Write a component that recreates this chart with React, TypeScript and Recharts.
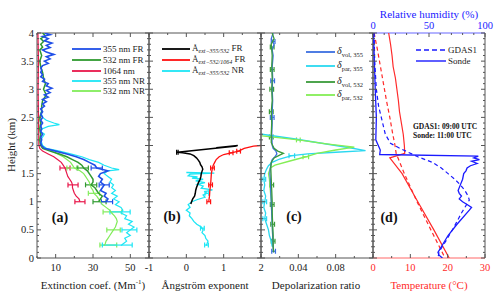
import React from "react";
import { ScatterChart, Scatter, XAxis, YAxis, ErrorBar } from "recharts";

type Pair = [number, number]; // [height km, value]
type Trip = [number, number, number]; // [height km, value, error]

// tick labels
const heightLabels = [0, 0.5, 1, 1.5, 2, 2.5, 3, 3.5, 4];
const extLabels = [10, 30, 50];
const angLabels = [-1, 0, 1, 2];
const depLabels = [0.04, 0.08];
const tempLabels = [0, 10, 20, 30];
const rhLabels = [0, 50, 100];

// (a) extinction coefficient, Mm-1
const ext355FR: Pair[] = [
  [4.0, 4], [3.97, 7], [3.94, 3], [3.9, 6], [3.86, 4], [3.82, 8], [3.78, 5], [3.74, 7], [3.7, 3], [3.66, 5],
  [3.62, 9], [3.58, 5], [3.54, 7], [3.5, 4], [3.46, 6], [3.42, 3], [3.38, 2], [3.34, 2.5], [3.3, 2], [3.26, 3],
  [3.22, 2], [3.18, 4], [3.14, 3], [3.1, 6], [3.06, 5], [3.02, 8], [2.98, 5], [2.94, 7], [2.9, 4], [2.86, 6],
  [2.82, 3], [2.78, 5], [2.74, 3], [2.7, 4], [2.65, 2], [2.6, 3], [2.55, 2], [2.5, 3], [2.45, 2], [2.4, 3],
  [2.35, 2], [2.3, 2.5], [2.25, 2], [2.2, 3], [2.15, 2], [2.1, 2.5], [2.05, 2], [2.0, 2.5], [1.95, 4], [1.9, 10],
  [1.85, 16], [1.8, 21], [1.75, 25], [1.7, 28], [1.65, 31], [1.6, 32], [1.55, 38], [1.5, 34], [1.45, 33], [1.4, 35],
  [1.35, 34], [1.3, 36], [1.25, 35], [1.2, 34], [1.15, 37], [1.1, 36], [1.05, 38], [1.0, 37],
];
const ext532FR: Pair[] = [
  [4.0, 3], [3.95, 4.5], [3.9, 2], [3.85, 3.5], [3.8, 2], [3.75, 3], [3.7, 1.5], [3.6, 2.5], [3.5, 1.5], [3.4, 2],
  [3.3, 3], [3.2, 3.5], [3.1, 4.5], [3.0, 3.5], [2.9, 5], [2.8, 3], [2.7, 2.5], [2.6, 2.5], [2.5, 1.5], [2.4, 2],
  [2.3, 1.5], [2.2, 2], [2.1, 1.5], [2.0, 2], [1.95, 3], [1.9, 7], [1.85, 12], [1.8, 16], [1.75, 19], [1.7, 22],
  [1.65, 24], [1.6, 25], [1.55, 27], [1.5, 28], [1.45, 29], [1.4, 30], [1.35, 30], [1.3, 29], [1.25, 31], [1.2, 32],
  [1.15, 33], [1.1, 35], [1.05, 34], [1.0, 33],
];
const ext1064: Pair[] = [
  [4.0, 0.5], [3.5, 0.8], [3.0, 0.6], [2.5, 0.8], [2.0, 1], [1.95, 1.5], [1.9, 3], [1.85, 6], [1.8, 9], [1.75, 11],
  [1.7, 13], [1.65, 14], [1.6, 15], [1.55, 15.5], [1.5, 16], [1.45, 16.5], [1.4, 17.5], [1.35, 18.5], [1.3, 19],
  [1.25, 19], [1.2, 19.5], [1.15, 20], [1.1, 21], [1.05, 22.5], [1.0, 23],
];
const ext355NR: Pair[] = [
  [2.6, 2], [2.5, 3], [2.45, 5], [2.4, 9], [2.37, 12], [2.34, 6], [2.3, 3], [2.25, 2], [2.2, 4], [2.1, 2],
  [2.0, 3], [1.95, 5], [1.9, 12], [1.85, 18], [1.8, 24], [1.75, 28], [1.7, 33], [1.65, 36], [1.6, 40], [1.57, 44],
  [1.55, 38], [1.5, 36], [1.45, 38], [1.4, 40], [1.35, 39], [1.3, 41], [1.25, 40], [1.2, 42], [1.15, 40], [1.1, 43],
  [1.05, 41], [1.0, 44], [0.95, 42], [0.9, 45], [0.85, 46], [0.8, 45], [0.75, 48], [0.7, 47], [0.65, 51], [0.6, 49],
  [0.55, 52], [0.5, 50], [0.45, 48], [0.4, 50], [0.35, 47], [0.3, 48], [0.25, 46], [0.22, 45],
];
const ext532NR: Pair[] = [
  [2.5, 1], [2.4, 2], [2.3, 1.5], [2.2, 2], [2.1, 1.5], [2.0, 2], [1.95, 4], [1.9, 8], [1.85, 11], [1.8, 14],
  [1.75, 16], [1.7, 18], [1.65, 19], [1.6, 20], [1.55, 23], [1.5, 25], [1.45, 26], [1.4, 27], [1.35, 28], [1.3, 28.5],
  [1.25, 29], [1.2, 30], [1.15, 30.5], [1.1, 32], [1.05, 33], [1.0, 34], [0.95, 35], [0.9, 37], [0.85, 39], [0.8, 40],
  [0.75, 41.5], [0.7, 42.5], [0.65, 43], [0.6, 42.5], [0.55, 42], [0.5, 41], [0.45, 40], [0.4, 39], [0.35, 38],
  [0.3, 37], [0.25, 36.5], [0.22, 36],
];
const err355FR: Trip[] = [[1.6, 32, 3], [1.3, 36, 2.7], [1.0, 37.5, 3]];
const err532FR: Trip[] = [[1.6, 24.5, 3], [1.3, 29, 3], [1.0, 33.5, 3.5]];
const err1064: Trip[] = [[1.6, 15, 2.7], [1.3, 19.3, 2.7], [1.0, 23, 2.7]];
const err355NR: Trip[] = [[0.82, 44.5, 5.4], [0.5, 49.5, 4], [0.23, 43, 8]];
const err532NR: Trip[] = [[1.6, 19, 3], [1.15, 30.5, 3], [0.82, 40.4, 5], [0.5, 41, 3.6], [0.23, 38.2, 4.5]];

// (b) Angstrom exponent
const ang355FR: Pair[] = [
  [2.0, 1.38], [1.96, 0.8], [1.99, 1.35], [1.88, -0.24], [1.87, -0.1], [1.85, 0.1], [1.82, 0.2], [1.78, 0.27],
  [1.74, 0.32], [1.7, 0.36], [1.66, 0.38], [1.62, 0.42], [1.58, 0.44], [1.54, 0.42], [1.5, 0.4], [1.45, 0.39],
  [1.4, 0.37], [1.35, 0.33], [1.3, 0.3], [1.25, 0.27], [1.2, 0.25], [1.15, 0.24], [1.1, 0.22], [1.05, 0.17],
  [1.0, 0.14], [0.96, 0.12],
];
const ang532FR: Pair[] = [
  [2.0, 2.0], [1.99, 1.8], [1.95, 1.55], [1.9, 1.4], [1.87, 1.2], [1.84, 1.0], [1.8, 0.88], [1.75, 0.8],
  [1.7, 0.76], [1.65, 0.72], [1.6, 0.7], [1.5, 0.67], [1.4, 0.66], [1.3, 0.65], [1.2, 0.63], [1.1, 0.62], [1.0, 0.6],
];
const ang355NR: Pair[] = [
  [1.52, 0.0], [1.51, 0.75], [1.49, 0.1], [1.46, 0.05], [1.44, 0.3], [1.42, 0.15], [1.4, 0.45], [1.37, 0.25],
  [1.34, 0.5], [1.31, 0.3], [1.28, 0.45], [1.24, 0.4], [1.21, 0.7], [1.18, 0.5], [1.15, 0.55], [1.12, 0.45],
  [1.08, 0.5], [1.04, 0.3], [1.0, 0.15], [0.95, 0.05], [0.9, 0.1], [0.85, 0.0], [0.8, 0.1], [0.75, 0.08],
  [0.7, 0.15], [0.65, 0.2], [0.6, 0.28], [0.55, 0.4], [0.5, 0.45], [0.45, 0.42], [0.4, 0.5], [0.35, 0.52],
  [0.3, 0.58], [0.25, 0.55], [0.22, 0.53],
];
const errAng355FR: Trip[] = [[1.88, -0.24, 0.02]];
const errAng532FR: Trip[] = [[1.9, 1.4, 0.05], [1.87, 1.2, 0.05], [1.6, 0.7, 0.05], [1.3, 0.65, 0.05], [1.0, 0.6, 0.05]];
const errAng355NR: Trip[] = [[1.15, 0.55, 0.05], [0.53, 0.43, 0.05], [0.23, 0.54, 0.05]];

// (c) depolarization ratio
const volDep355: Pair[] = [
  [4.0, 0.013], [3.9, 0.011], [3.8, 0.014], [3.7, 0.012], [3.6, 0.013], [3.4, 0.012], [3.2, 0.0125], [3.0, 0.012],
  [2.8, 0.0125], [2.6, 0.012], [2.4, 0.012], [2.2, 0.0115], [2.0, 0.012], [1.95, 0.013], [1.9, 0.016], [1.85, 0.017],
  [1.8, 0.015], [1.75, 0.012], [1.7, 0.011], [1.6, 0.01], [1.5, 0.0095], [1.4, 0.01], [1.2, 0.0105], [1.0, 0.011],
  [0.8, 0.0115], [0.6, 0.012], [0.4, 0.0125], [0.2, 0.013], [0.1, 0.0135],
];
const parDep355: Pair[] = [
  [2.2, 0.001], [2.12, 0.035], [2.04, 0.065], [1.96, 0.095], [1.91, 0.112], [1.88, 0.08], [1.85, 0.05], [1.82, 0.033],
  [1.76, 0.02], [1.7, 0.012], [1.64, 0.008], [1.58, 0.006], [1.5, 0.004], [1.4, 0.003], [1.3, 0.004], [1.2, 0.003],
  [1.1, 0.005], [1.0, 0.004], [0.9, 0.003], [0.8, 0.005], [0.7, 0.004], [0.6, 0.006], [0.5, 0.008], [0.4, 0.009],
  [0.3, 0.011], [0.2, 0.012],
];
const volDep532: Pair[] = [
  [4.0, 0.012], [3.9, 0.014], [3.8, 0.011], [3.6, 0.012], [3.4, 0.0115], [3.2, 0.012], [3.0, 0.0115], [2.8, 0.012],
  [2.6, 0.011], [2.4, 0.0115], [2.2, 0.011], [2.05, 0.011], [1.95, 0.014], [1.9, 0.018], [1.86, 0.024], [1.83, 0.02],
  [1.78, 0.014], [1.7, 0.011], [1.6, 0.0105], [1.4, 0.011], [1.2, 0.0115], [1.0, 0.012], [0.8, 0.012], [0.6, 0.0125],
  [0.4, 0.013], [0.2, 0.013], [0.1, 0.0135],
];
const parDep532: Pair[] = [
  [2.17, 0.001], [2.1, 0.04], [2.03, 0.07], [1.97, 0.1], [1.92, 0.08], [1.86, 0.06], [1.8, 0.048], [1.72, 0.03],
  [1.65, 0.015], [1.6, 0.01], [1.5, 0.008], [1.4, 0.009], [1.2, 0.01], [1.0, 0.011], [0.8, 0.0115], [0.6, 0.012],
  [0.4, 0.0125], [0.2, 0.013],
];
const errVol355: Trip[] = [[3.85, 0.013, 0.002], [3.15, 0.0125, 0.002], [2.5, 0.012, 0.002], [0.12, 0.0135, 0.002]];
const errPar355: Trip[] = [[1.82, 0.033, 0.003], [1.4, 0.003, 0.002], [1.0, 0.004, 0.002], [0.7, 0.004, 0.002]];
const errVol532: Trip[] = [
  [3.75, 0.012, 0.002], [3.35, 0.012, 0.002], [3.0, 0.0115, 0.002], [2.6, 0.011, 0.002], [2.15, 0.011, 0.002],
  [1.3, 0.0115, 0.002], [0.95, 0.012, 0.002], [0.6, 0.0125, 0.002], [0.3, 0.013, 0.002],
];
const errPar532: Trip[] = [[2.1, 0.04, 0.002], [1.8, 0.048, 0.003]];

// (d) temperature (degC) and relative humidity (%)
const tempSonde: Pair[] = [
  [4.0, 4.2], [3.8, 4.7], [3.6, 5.1], [3.4, 5.4], [3.2, 6.0], [3.0, 6.4], [2.8, 6.8], [2.6, 7.1], [2.4, 7.6],
  [2.2, 8.1], [2.0, 8.4], [1.86, 8.5], [1.82, 6.5], [1.78, 4.5], [1.5, 7.8], [1.0, 12.0], [0.5, 16.3], [0.0, 20.4],
];
const tempGdas: Pair[] = [
  [4.0, 0.3], [3.7, 1.2], [3.4, 2.0], [3.1, 2.8], [2.8, 3.6], [2.5, 4.5], [2.2, 5.3], [2.0, 5.9], [1.86, 6.2],
  [1.5, 8.4], [1.0, 11.8], [0.5, 15.5], [0.0, 19.3],
];
const rhSonde: Pair[] = [
  [4.0, 0.5], [3.5, 1.2], [3.0, 2.0], [2.5, 3.0], [2.1, 2.5], [1.92, 6.5], [1.84, 6], [1.81, 94], [1.78, 90],
  [1.75, 95], [1.72, 88], [1.68, 93], [1.64, 87], [1.6, 84], [1.55, 83], [1.5, 81], [1.4, 80], [1.3, 78], [1.2, 76],
  [1.15, 77], [1.1, 79], [1.05, 77], [1.0, 80], [0.95, 84], [0.9, 88], [0.85, 86], [0.6, 75], [0.4, 67], [0.2, 61],
  [0.1, 58], [0.05, 59], [0.0, 62],
];
const rhGdas: Pair[] = [
  [4.0, 1], [3.5, 1.5], [3.0, 3], [2.7, 5], [2.45, 8], [2.2, 11], [2.04, 15.6], [1.95, 24], [1.8, 40], [1.7, 53],
  [1.6, 61], [1.5, 67], [1.4, 73], [1.3, 78], [1.2, 82], [1.1, 85], [1.03, 86], [0.8, 79], [0.56, 72.6], [0.3, 65],
  [0.11, 59], [0.0, 58],
];

const FONT = "'Liberation Serif', 'Times New Roman', serif";
const AXC = "#555";
const BLUE = "#1a1aff";
const RED = "#ff2a2a";

const steps = (a: number, b: number, s: number) => {
  const out: number[] = [];
  for (let i = 0; a + i * s <= b + 1e-9; i++) out.push(+(a + i * s).toFixed(4));
  return out;
};
const near = (list: number[] | null, v: number) => !!list && list.some((m) => Math.abs(m - v) < 1e-6);
const yTicks = steps(0, 4, 0.1);

function tick(side: string, majors: number[], labels: number[] | null, color = "#222") {
  return (p: any) => {
    const x = Number(p.x);
    const y = Number(p.y);
    const v = Number(p.payload?.value);
    const len = near(majors, v) ? 4 : 2;
    const lbl = near(labels, v) ? String(v) : null;
    const ts = { fontFamily: FONT, fontSize: 10.5, fill: color };
    if (side === "left")
      return (
        <g>
          <line x1={x} y1={y} x2={x + len} y2={y} stroke={AXC} />
          {lbl && <text x={x - 3} y={y + 3.5} textAnchor="end" style={ts}>{lbl}</text>}
        </g>
      );
    if (side === "right") return <g><line x1={x} y1={y} x2={x - len} y2={y} stroke={AXC} /></g>;
    if (side === "top")
      return (
        <g>
          <line x1={x} y1={y} x2={x} y2={y + len} stroke={AXC} />
          {lbl && <text x={x} y={y - 4} textAnchor="middle" style={ts}>{lbl}</text>}
        </g>
      );
    return (
      <g>
        <line x1={x} y1={y} x2={x} y2={y - len} stroke={AXC} />
        {lbl && <text x={x} y={y + 13} textAnchor="middle" style={ts}>{lbl}</text>}
      </g>
    );
  };
}

const noDot = () => <g />;
const toPts = (a: Pair[]) => a.map(([h, v]) => ({ h, v }));
const toErr = (a: Trip[]) => a.map(([h, v, e]) => ({ h, v, e }));

function profile(key: string, data: Pair[], color: string, w = 1.3, dash?: string, xAxisId: any = 0) {
  return (
    <Scatter
      key={key}
      data={toPts(data)}
      xAxisId={xAxisId}
      fill={color}
      line={{ stroke: color, strokeWidth: w, strokeDasharray: dash }}
      lineType="joint"
      shape={noDot}
      legendType="none"
      isAnimationActive={false}
    />
  );
}

function bars(key: string, data: Trip[], color: string) {
  return (
    <Scatter key={key} data={toErr(data)} fill={color} shape={noDot} legendType="none" isAnimationActive={false}>
      <ErrorBar dataKey="e" direction="x" width={2.5} stroke={color} strokeWidth={1.2} />
    </Scatter>
  );
}

type Cfg = {
  left: number;
  yw: number;
  xDomain: [number, number];
  xTicks: number[];
  xMajors: number[];
  xLabels: number[];
  xColor?: string;
  topDomain: [number, number];
  topTicks: number[];
  topLabels: number[] | null;
  topColor?: string;
  bottomLine?: string;
  topLine?: string;
  showY?: boolean;
};

function panel(cfg: Cfg, series: React.ReactNode[]) {
  const width = cfg.yw + 112 + 10;
  return (
    <div style={{ position: "absolute", left: cfg.left, top: 0 }}>
      <ScatterChart width={width} height={299} margin={{ top: 20, right: 0, bottom: 11, left: 0 }}>
        <XAxis
          xAxisId={0} type="number" dataKey="v" orientation="bottom" domain={cfg.xDomain} ticks={cfg.xTicks}
          interval={0} tickSize={0} tickMargin={0} tickLine={false} height={30} allowDataOverflow
          axisLine={{ stroke: cfg.bottomLine ?? AXC, strokeWidth: cfg.bottomLine ? 1.5 : 1 }}
          tick={tick("bottom", cfg.xMajors, cfg.xLabels, cfg.xColor)}
        />
        <XAxis
          xAxisId="t" type="number" dataKey="v" orientation="top" domain={cfg.topDomain} ticks={cfg.topTicks}
          interval={0} tickSize={0} tickMargin={0} tickLine={false} height={13} allowDataOverflow
          axisLine={{ stroke: cfg.topLine ?? AXC, strokeWidth: cfg.topLine ? 1.5 : 1 }}
          tick={tick("top", cfg.topLabels ?? cfg.xMajors, cfg.topLabels, cfg.topColor)}
        />
        <YAxis
          yAxisId={0} type="number" dataKey="h" orientation="left" width={cfg.yw} domain={[0, 4]} ticks={yTicks}
          interval={0} tickSize={0} tickMargin={0} tickLine={false} allowDataOverflow axisLine={{ stroke: AXC }}
          tick={tick("left", heightLabels, cfg.showY ? heightLabels : null)}
        />
        <YAxis
          yAxisId="r" type="number" dataKey="h" orientation="right" width={10} domain={[0, 4]} ticks={yTicks}
          interval={0} tickSize={0} tickMargin={0} tickLine={false} allowDataOverflow axisLine={{ stroke: AXC }}
          tick={tick("right", heightLabels, null)}
        />
        {series}
      </ScatterChart>
    </div>
  );
}

const txt = (x: number, y: number, size: number, color = "#222", extra: React.CSSProperties = {}) => ({
  position: "absolute" as const,
  left: x,
  top: y,
  transform: "translate(0, -50%)",
  fontFamily: FONT,
  fontSize: size,
  color,
  whiteSpace: "nowrap" as const,
  lineHeight: 1,
  ...extra,
});

function Row(p: { x1: number; x2: number; y: number; color: string; dash?: string; w?: number; children: React.ReactNode; size?: number }) {
  return (
    <>
      <svg style={{ position: "absolute", left: p.x1, top: p.y - 3, overflow: "visible" }} width={p.x2 - p.x1} height={6}>
        <line x1={0} y1={3} x2={p.x2 - p.x1} y2={3} stroke={p.color} strokeWidth={p.w ?? 1.8} strokeDasharray={p.dash} />
      </svg>
      <div style={txt(p.x2 + 2, p.y, p.size ?? 9)}>{p.children}</div>
    </>
  );
}

const centered = (x: number, y: number, size: number, color = "#222", extra: React.CSSProperties = {}) =>
  txt(x, y, size, color, { transform: "translate(-50%, -50%)", ...extra });

const C = {
  b355: "#1f4fe8", g532: "#2f9a2f", r1064: "#e8174a", c355: "#1ee6f5", l532: "#82ec5a",
  vol355: "#3b6fe0", par355: "#2ad8f0", vol532: "#3a9a3a", par532: "#84ee55",
};

export default function App() {
  const sub = { fontSize: 6, fontStyle: "italic" as const };
  return (
    <div style={{ position: "absolute", left: 0, top: 0, width: 500, height: 299, background: "#fff", overflow: "hidden" }}>
      {panel(
        { left: 0, yw: 37, xDomain: [0, 60], xTicks: steps(0, 60, 10), xMajors: extLabels, xLabels: extLabels,
          topDomain: [0, 60], topTicks: steps(0, 60, 10), topLabels: null, showY: true },
        [
          profile("a1", ext1064, C.r1064, 1.2),
          profile("a2", ext532NR, C.l532, 1.2),
          profile("a3", ext355NR, C.c355, 1.2),
          profile("a4", ext532FR, C.g532, 1.5),
          profile("a5", ext355FR, C.b355, 1.6),
          bars("ae1", err1064, C.r1064),
          bars("ae2", err532NR, C.l532),
          bars("ae3", err355NR, C.c355),
          bars("ae4", err532FR, C.g532),
          bars("ae5", err355FR, C.b355),
        ]
      )}
      {panel(
        { left: 129, yw: 20, xDomain: [-1, 2], xTicks: steps(-1, 2, 0.5), xMajors: angLabels, xLabels: angLabels,
          topDomain: [-1, 2], topTicks: steps(-1, 2, 0.5), topLabels: null },
        [
          profile("b1", ang355NR, C.c355, 1.3),
          profile("b2", ang532FR, "#ff1010", 1.3),
          profile("b3", ang355FR, "#000", 1.5),
          bars("be1", errAng355NR, C.c355),
          bars("be2", errAng532FR, "#ff1010"),
          bars("be3", errAng355FR, "#000"),
        ]
      )}
      {panel(
        { left: 241, yw: 20, xDomain: [0, 0.12], xTicks: steps(0, 0.12, 0.02), xMajors: depLabels, xLabels: depLabels,
          topDomain: [0, 0.12], topTicks: steps(0, 0.12, 0.02), topLabels: null },
        [
          profile("c1", parDep355, C.par355, 1.3),
          profile("c2", parDep532, C.par532, 1.3),
          profile("c3", volDep355, C.vol355, 1.3),
          profile("c4", volDep532, C.vol532, 1.3),
          bars("ce1", errPar355, C.par355),
          bars("ce2", errPar532, C.par532),
          bars("ce3", errVol355, C.vol355),
          bars("ce4", errVol532, C.vol532),
        ]
      )}
      {panel(
        { left: 353, yw: 20, xDomain: [0, 30], xTicks: steps(0, 30, 5), xMajors: tempLabels, xLabels: tempLabels, xColor: RED,
          topDomain: [0, 100], topTicks: steps(0, 100, 10), topLabels: rhLabels, topColor: BLUE,
          bottomLine: "#ff9a9a", topLine: "#9a9aff" },
        [
          profile("d1", tempGdas, RED, 1.2, "4 3"),
          profile("d2", tempSonde, RED, 1.2),
          profile("d3", rhGdas, BLUE, 1.2, "4 3", "t"),
          profile("d4", rhSonde, BLUE, 1.3, undefined, "t"),
        ]
      )}

      {/* axis titles */}
      <div style={centered(11, 145, 11, "#222", { transform: "translate(-50%, -50%) rotate(-90deg)" })}>Height (km)</div>
      <div style={centered(93, 285, 11)}>
        Extinction coef. (Mm<sup style={{ fontSize: 7 }}>-1</sup>)
      </div>
      <div style={centered(205, 285, 11)}>Ångström exponent</div>
      <div style={centered(316, 285, 11)}>Depolarization ratio</div>
      <div style={centered(429, 285, 11, RED)}>Temperature (°C)</div>
      <div style={centered(429, 14, 11, BLUE)}>Relative humidity (%)</div>

      {/* panel letters */}
      <div style={centered(60, 218, 14, "#111", { fontWeight: 700 })}>(a)</div>
      <div style={centered(172, 217, 14, "#111", { fontWeight: 700 })}>(b)</div>
      <div style={centered(294, 217, 14, "#111", { fontWeight: 700 })}>(c)</div>
      <div style={centered(389, 218, 14, "#111", { fontWeight: 700 })}>(d)</div>

      {/* legend (a) */}
      <Row x1={72} x2={101} y={49} color={C.b355}>355 nm FR</Row>
      <Row x1={72} x2={101} y={60} color={C.g532}>532 nm FR</Row>
      <Row x1={72} x2={101} y={71} color={C.r1064}>1064 nm</Row>
      <Row x1={72} x2={101} y={81} color={C.c355}>355 nm NR</Row>
      <Row x1={72} x2={101} y={91} color={C.l532}>532 nm NR</Row>

      {/* legend (b) */}
      <Row x1={162} x2={190} y={49} color="#000">Å<sub style={sub}>ext−355/532</sub> FR</Row>
      <Row x1={162} x2={190} y={60} color="#ff1010">Å<sub style={sub}>ext−532/1064</sub> FR</Row>
      <Row x1={162} x2={190} y={71} color={C.c355}>Å<sub style={sub}>ext−355/532</sub> NR</Row>

      {/* legend (c) */}
      <Row x1={306} x2={335} y={52} color={C.vol355} size={10}><i>δ</i><sub style={{ fontSize: 6.5 }}>vol, 355</sub></Row>
      <Row x1={306} x2={335} y={66} color={C.par355} size={10}><i>δ</i><sub style={{ fontSize: 6.5 }}>par, 355</sub></Row>
      <Row x1={306} x2={335} y={82} color={C.vol532} size={10}><i>δ</i><sub style={{ fontSize: 6.5 }}>vol, 532</sub></Row>
      <Row x1={306} x2={335} y={95} color={C.par532} size={10}><i>δ</i><sub style={{ fontSize: 6.5 }}>par, 532</sub></Row>

      {/* legend (d) */}
      <Row x1={416} x2={446} y={50} color={BLUE} dash="5 3" w={1.4}>GDAS1</Row>
      <Row x1={416} x2={446} y={61} color={BLUE} w={1.4}>Sonde</Row>
      <div style={txt(413, 127, 7.5, "#111", { fontWeight: 700 })}>GDAS1: 09:00 UTC</div>
      <div style={txt(413, 136, 7.5, "#111", { fontWeight: 700 })}>Sonde: 11:00 UTC</div>
    </div>
  );
}
